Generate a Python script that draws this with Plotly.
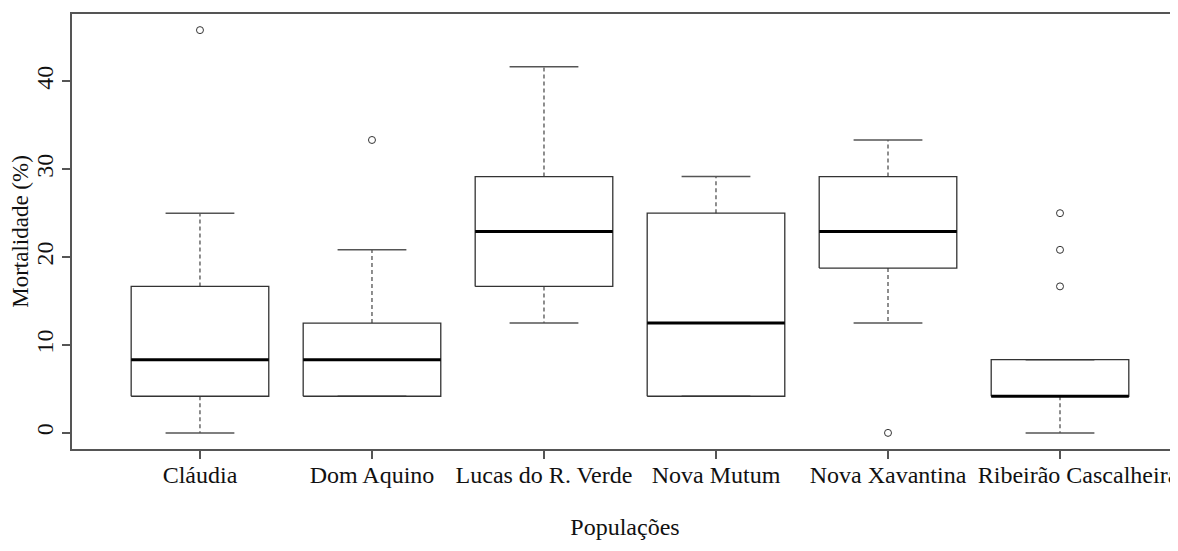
import plotly.graph_objects as go

categories = ["Cláudia", "Dom Aquino", "Lucas do R. Verde", "Nova Mutum", "Nova Xavantina", "Ribeirão Cascalheira"]
lower_whisker = [0.0, 4.17, 12.5, 4.17, 12.5, 0.0]
q1 = [4.17, 4.17, 16.67, 4.17, 18.75, 4.17]
median = [8.33, 8.33, 22.92, 12.5, 22.92, 4.17]
q3 = [16.67, 12.5, 29.17, 25.0, 29.17, 8.33]
upper_whisker = [25.0, 20.83, 41.67, 29.17, 33.33, 8.33]
outlier_cat = ["Cláudia", "Dom Aquino", "Nova Xavantina", "Ribeirão Cascalheira", "Ribeirão Cascalheira", "Ribeirão Cascalheira"]
outlier_val = [45.83, 33.33, 0.0, 16.67, 20.83, 25.0]
y_ticks = [0, 10, 20, 30, 40]

FONT = "Liberation Serif, Times New Roman, serif"
BOXC = "#333333"
half = 0.4
staple = 0.2

pos = list(range(1, len(categories) + 1))
posmap = dict(zip(categories, pos))
# last label sits slightly right of its tick in the reference
tick_text = categories[:-1] + ["\u00a0" * 6 + categories[-1]]

bx, by, mx, my, wx, wy, sx, sy = [], [], [], [], [], [], [], []
for p, lo, a, m, b, hi in zip(pos, lower_whisker, q1, median, q3, upper_whisker):
    bx += [p - half, p + half, p + half, p - half, p - half, None]
    by += [a, a, b, b, a, None]
    mx += [p - half, p + half, None]
    my += [m, m, None]
    if hi > b:
        wx += [p, p, None]
        wy += [b, hi, None]
    if lo < a:
        wx += [p, p, None]
        wy += [a, lo, None]
    sx += [p - staple, p + staple, None, p - staple, p + staple, None]
    sy += [hi, hi, None, lo, lo, None]

fig = go.Figure()
fig.add_trace(go.Scatter(x=wx, y=wy, mode="lines", line=dict(color="#444444", width=1.2, dash="4px,3px"), hoverinfo="skip"))
fig.add_trace(go.Scatter(x=sx, y=sy, mode="lines", line=dict(color="#555555", width=1.5), hoverinfo="skip"))
fig.add_trace(go.Scatter(x=bx, y=by, mode="lines", line=dict(color=BOXC, width=1.3), hoverinfo="skip"))
fig.add_trace(go.Scatter(x=mx, y=my, mode="lines", line=dict(color="#000000", width=3), hoverinfo="skip"))
fig.add_trace(go.Scatter(x=[posmap[c] for c in outlier_cat], y=outlier_val, mode="markers",
                         marker=dict(symbol="circle-open", size=7, color="#333333", line=dict(width=1))))

ymin, ymax = min(lower_whisker + outlier_val), max(upper_whisker + outlier_val)
pad = (ymax - ymin) * 0.04

fig.update_layout(
    width=1170, height=543,
    margin=dict(l=64, r=0, t=6, b=102, autoexpand=False),
    paper_bgcolor="white", plot_bgcolor="white",
    showlegend=False,
    font=dict(family=FONT, size=24, color="#111111"),
    xaxis=dict(
        range=[0.256, 6.686], tickmode="array", tickvals=pos, ticktext=tick_text,
        automargin=False, tickangle=0, ticklabelstandoff=-5, ticklabeloverflow="allow",
        showline=True, mirror=True, linecolor="#555555", linewidth=1.5,
        ticks="outside", ticklen=8, tickcolor="#555555", tickwidth=1.5,
        showgrid=False, zeroline=False,
        title=dict(text="Populações", standoff=32, font=dict(size=24)),
        tickfont=dict(size=24),
    ),
    yaxis=dict(
        range=[ymin - pad, ymax + pad], tickmode="array", tickvals=y_ticks,
        automargin=False,
        showline=True, linecolor="#555555", linewidth=1.5,
        ticks="outside", ticklen=8, tickcolor="#555555", tickwidth=1.5,
        tickangle=-90, showgrid=False, zeroline=False,
        title=dict(text="Mortalidade (%)", standoff=6, font=dict(size=23)),
        tickfont=dict(size=24),
    ),
)

fig.write_html("out.html")
